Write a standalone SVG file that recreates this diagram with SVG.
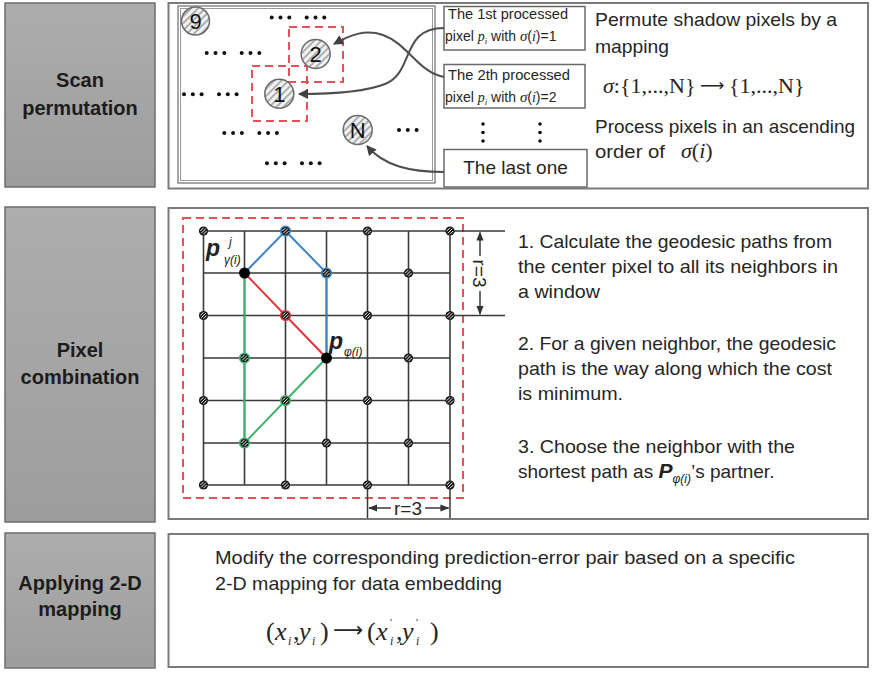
<svg xmlns="http://www.w3.org/2000/svg" width="873" height="677" viewBox="0 0 873 677">
<defs>
<style>
.lbl{font-family:"Liberation Sans",Arial,sans-serif;font-weight:bold;font-size:20px;fill:#1c1c1c;text-anchor:middle}
.gbox{fill:url(#gg);stroke:#6e6e6e;stroke-width:1.5}
.panel{fill:#fff;stroke:#7a7a7a;stroke-width:2}
.t{font-family:"Liberation Sans",Arial,sans-serif;font-size:19px;fill:#262626}
.ts{font-family:"Liberation Sans",Arial,sans-serif;font-size:14px;fill:#262626}
.m{font-family:"Liberation Serif","Times New Roman",serif;fill:#262626}
.mi{font-family:"Liberation Serif","Times New Roman",serif;font-style:italic}
.ar{font-family:"DejaVu Sans",sans-serif;fill:#262626}
.gl{stroke:#3a3a3a;stroke-width:1.6;fill:none}
.rd{fill:none;stroke:#e8505a;stroke-width:2;stroke-dasharray:8 5}
.conn{fill:none;stroke:#4f4f4f;stroke-width:2;marker-end:url(#ah)}
.hc{fill:url(#hatch);stroke:#6a6a6a;stroke-width:1.5}
.num{font-family:"Liberation Sans",Arial,sans-serif;font-size:22px;fill:#111;text-anchor:middle}
.dim{stroke:#3a3a3a;stroke-width:1.5;fill:none}
.lb{fill:#fff;stroke:#6a6a6a;stroke-width:1.5}
.dot{fill:#111}
.pl{font-family:"Liberation Sans",Arial,sans-serif;font-weight:bold;font-style:italic;fill:#222}
.sub{font-family:"Liberation Sans",Arial,sans-serif;font-style:italic;fill:#222;font-size:12px}
</style>
<linearGradient id="gg" x1="0" y1="0" x2="0" y2="1"><stop offset="0" stop-color="#adadad"/><stop offset="1" stop-color="#9d9d9d"/></linearGradient>
<pattern id="hatch" width="5" height="5" patternUnits="userSpaceOnUse" patternTransform="rotate(45)"><rect width="5" height="5" fill="#f2f2f2"/><line x1="1" y1="0" x2="1" y2="5" stroke="#777" stroke-width="1.1"/></pattern>
<marker id="ah" viewBox="0 0 10 10" refX="9" refY="5" markerWidth="5" markerHeight="5" orient="auto"><path d="M0,0 L10,5 L0,10 z" fill="#404040"/></marker>
<marker id="da" viewBox="0 0 10 10" refX="9" refY="5" markerWidth="6" markerHeight="6" orient="auto-start-reverse"><path d="M0,1 L10,5 L0,9 z" fill="#333"/></marker>
<g id="nd"><circle r="4.6" fill="#1a1a1a"/><path d="M-3.2,0 L0,-3.2 M-2.3,2.3 L2.3,-2.3 M0,3.2 L3.2,0" stroke="#fff" stroke-width="0.9"/></g>
<g id="d3" class="dot"><circle cx="0" cy="0" r="2"/><circle cx="8.8" cy="0" r="2"/><circle cx="17.6" cy="0" r="2"/></g>
</defs>
<rect width="873" height="677" fill="#fff"/>

<!-- left stage labels -->
<g id="stage-scan"><rect class="gbox" x="5" y="3" width="150" height="184"/><text class="lbl" x="80" y="87">Scan</text><text class="lbl" x="80" y="115">permutation</text></g>
<g id="stage-combination"><rect class="gbox" x="5" y="207" width="150" height="315"/><text class="lbl" x="80" y="357">Pixel</text><text class="lbl" x="80" y="384">combination</text></g>
<g id="stage-mapping"><rect class="gbox" x="5" y="533" width="150" height="135"/><text class="lbl" x="80" y="590">Applying 2-D</text><text class="lbl" x="80" y="616">mapping</text></g>

<!-- panel 1 -->
<g id="panel-scan">
<rect class="panel" x="168.5" y="3" width="699.5" height="185.5"/>
<rect x="178" y="6" width="257" height="177" fill="none" stroke="#777" stroke-width="1.3"/>
<rect x="180.5" y="8.5" width="252" height="172" fill="none" stroke="#9a9a9a" stroke-width="1"/>
<use href="#d3" x="271.7" y="17.5"/><use href="#d3" x="306.7" y="17.5"/>
<use href="#d3" x="206.7" y="53"/><use href="#d3" x="241.7" y="53"/>
<use href="#d3" x="184" y="94.3"/><use href="#d3" x="219" y="94.3"/>
<use href="#d3" x="224.3" y="133"/><use href="#d3" x="259.3" y="133"/>
<use href="#d3" x="267" y="163.3"/><use href="#d3" x="302" y="163.3"/>
<use href="#d3" x="399" y="130"/>
<rect class="rd" x="289" y="27" width="54" height="55" stroke-dasharray="7 4"/>
<rect class="rd" x="252" y="66" width="55" height="55" stroke-dasharray="7 4"/>
<text class="t" x="595" y="26" textLength="242" lengthAdjust="spacingAndGlyphs">Permute shadow pixels by a</text>
<text class="t" x="595" y="53" textLength="74" lengthAdjust="spacingAndGlyphs">mapping</text>
<text class="m" x="603" y="93" font-size="22"><tspan font-style="italic">σ</tspan>:{1,...,N}</text>
<text class="ar" x="700" y="91" font-size="17">⟶</text>
<text class="m" x="729" y="93" font-size="22">{1,...,N}</text>
<text class="t" x="595" y="133" textLength="260" lengthAdjust="spacingAndGlyphs">Process pixels in an ascending</text>
<text class="t" x="595" y="158" textLength="70" lengthAdjust="spacingAndGlyphs">order of</text>
<text class="m" x="681" y="158" font-size="22"><tspan font-style="italic">σ</tspan>(<tspan font-style="italic">i</tspan>)</text>
</g>

<g id="px9"><circle class="hc" cx="195.5" cy="21" r="14"/><text class="num" x="195.5" y="29">9</text></g>
<g id="px2"><circle class="hc" cx="315.7" cy="54" r="14.5"/><text class="num" x="315.7" y="62">2</text></g>
<g id="px1"><circle class="hc" cx="279.3" cy="93.7" r="14.5"/><text class="num" x="279.3" y="101.7">1</text></g>
<g id="pxN"><circle class="hc" cx="357.7" cy="130" r="14.5"/><text class="num" x="357.7" y="138">N</text></g>

<g id="box-first"><rect class="lb" x="444" y="6.5" width="141" height="43.5"/>
<text class="ts" x="448" y="19" textLength="120" lengthAdjust="spacingAndGlyphs">The 1st processed</text>
<text class="ts" x="445" y="41">pixel <tspan class="mi">p</tspan><tspan font-size="9" dy="3" class="mi">i</tspan><tspan dy="-3"> with </tspan><tspan class="mi" font-size="15">σ</tspan>(<tspan class="mi">i</tspan>)=1</text></g>
<g id="box-second"><rect class="lb" x="444" y="64.5" width="141" height="43.5"/>
<text class="ts" x="448" y="80" textLength="122" lengthAdjust="spacingAndGlyphs">The 2th processed</text>
<text class="ts" x="445" y="102">pixel <tspan class="mi">p</tspan><tspan font-size="9" dy="3" class="mi">i</tspan><tspan dy="-3"> with </tspan><tspan class="mi" font-size="15">σ</tspan>(<tspan class="mi">i</tspan>)=2</text></g>
<g id="vdots" class="dot"><circle cx="483" cy="124" r="1.8"/><circle cx="483" cy="132.5" r="1.8"/><circle cx="483" cy="141" r="1.8"/><circle cx="540" cy="124" r="1.8"/><circle cx="540" cy="132.5" r="1.8"/><circle cx="540" cy="141" r="1.8"/></g>
<g id="box-last"><rect class="lb" x="444" y="149.5" width="143" height="37.5"/>
<text class="t" x="515.5" y="174" font-size="17" text-anchor="middle">The last one</text></g>

<g id="connectors">
<path class="conn" d="M444,28 C400,28 415,72 385,84 C365,92 330,94 299,94"/>
<path class="conn" d="M444,77 C418,72 408,44 383,35 C365,29 350,35 334,44"/>
<path class="conn" d="M444,172 C410,172 384,166 367,146"/>
</g>

<!-- panel 2 -->
<g id="panel-combination">
<rect class="panel" x="168.5" y="208" width="699.5" height="311"/>
<rect class="rd" x="183" y="218" width="280" height="280"/>
<g class="gl">
<path d="M203.5,231H450M203.5,273H450M203.5,315.5H450M203.5,358H450M203.5,400.5H450M203.5,443H450M203.5,485H450"/>
<path d="M203.5,231V485M244.5,231V485M285.5,231V485M326.5,231V485M367.5,231V485M408.5,231V485M450,231V485"/>
</g>
<path class="dim" d="M450,231H505M450,315.5H505M367.5,485V518M450,485V518"/>
<path class="dim" d="M480,256V232.5" marker-end="url(#da)"/>
<path class="dim" d="M480,291V314" marker-end="url(#da)"/>
<text class="t" font-size="20" text-anchor="middle" transform="translate(480,273.5) rotate(90)" x="0" y="7">r=3</text>
<path class="dim" d="M391,508H369" marker-end="url(#da)"/>
<path class="dim" d="M425,508H448.5" marker-end="url(#da)"/>
<text class="t" font-size="20" x="408" y="515" text-anchor="middle">r=3</text>
</g>

<g id="geodesic-paths" fill="none" stroke-width="2">
<path d="M244.5,273L285.5,231L326.5,273L326.5,358" stroke="#3d85c6"/>
<path d="M244.5,273L285.5,315.5L326.5,358" stroke="#e0353a"/>
<path d="M244.5,273L244.5,443L285.5,400.5L326.5,358" stroke="#3db36d"/>
</g>

<g id="grid-pixels">
<use href="#nd" x="203.5" y="231"/><use href="#nd" x="285.5" y="231"/><use href="#nd" x="367.5" y="231"/><use href="#nd" x="450" y="231"/>
<use href="#nd" x="326.5" y="273"/><use href="#nd" x="408.5" y="273"/>
<use href="#nd" x="203.5" y="315.5"/><use href="#nd" x="285.5" y="315.5"/><use href="#nd" x="367.5" y="315.5"/><use href="#nd" x="450" y="315.5"/>
<use href="#nd" x="244.5" y="358"/><use href="#nd" x="408.5" y="358"/>
<use href="#nd" x="203.5" y="400.5"/><use href="#nd" x="285.5" y="400.5"/><use href="#nd" x="367.5" y="400.5"/><use href="#nd" x="450" y="400.5"/>
<use href="#nd" x="244.5" y="443"/><use href="#nd" x="326.5" y="443"/><use href="#nd" x="408.5" y="443"/>
<use href="#nd" x="203.5" y="485"/><use href="#nd" x="285.5" y="485"/><use href="#nd" x="367.5" y="485"/><use href="#nd" x="450" y="485"/>
<g fill="none" stroke-width="1.6">
<circle cx="285.5" cy="231" r="4.8" stroke="#3d85c6"/><circle cx="326.5" cy="273" r="4.8" stroke="#3d85c6"/>
<circle cx="285.5" cy="315.5" r="4.8" stroke="#e0353a"/>
<circle cx="244.5" cy="358" r="4.8" stroke="#3db36d"/><circle cx="285.5" cy="400.5" r="4.8" stroke="#3db36d"/><circle cx="244.5" cy="443" r="4.8" stroke="#3db36d"/>
</g>
<circle cx="244.5" cy="273" r="5.5" fill="#000"/>
<circle cx="326.5" cy="358" r="5.5" fill="#000"/>
</g>

<g id="label-pgamma"><text class="pl" x="206" y="256" font-size="23">p</text><text class="sub" x="229" y="246">j</text><text class="sub" x="224" y="264">γ(i)</text></g>
<g id="label-pphi"><text class="pl" x="329" y="349" font-size="23">p</text><text class="sub" x="344" y="356">φ(i)</text></g>

<g id="panel2-text">
<text class="t" x="518" y="248" textLength="314" lengthAdjust="spacingAndGlyphs">1. Calculate the geodesic paths from</text>
<text class="t" x="518" y="273" textLength="320" lengthAdjust="spacingAndGlyphs">the center pixel to all its neighbors in</text>
<text class="t" x="518" y="298" textLength="82" lengthAdjust="spacingAndGlyphs">a window</text>
<text class="t" x="518" y="350" textLength="318" lengthAdjust="spacingAndGlyphs">2. For a given neighbor, the geodesic</text>
<text class="t" x="518" y="375" textLength="314" lengthAdjust="spacingAndGlyphs">path is the way along which the cost</text>
<text class="t" x="518" y="400" textLength="105" lengthAdjust="spacingAndGlyphs">is minimum.</text>
<text class="t" x="518" y="453" textLength="277" lengthAdjust="spacingAndGlyphs">3. Choose the neighbor with the</text>
<text class="t" x="518" y="478">shortest path as <tspan class="pl" font-size="21">P</tspan><tspan class="sub" font-size="11" dy="5">φ(i)</tspan><tspan dy="-5">’s partner.</tspan></text>
</g>

<!-- panel 3 -->
<g id="panel-mapping">
<rect class="panel" x="168.5" y="534" width="699.5" height="133"/>
<text class="t" x="215" y="564" textLength="580" lengthAdjust="spacingAndGlyphs">Modify the corresponding prediction-error pair based on a specific</text>
<text class="t" x="215" y="590" textLength="287" lengthAdjust="spacingAndGlyphs">2-D mapping for data embedding</text>
<g class="m" font-size="26">
<text x="266" y="640">(</text>
<text x="275" y="640" font-style="italic">x</text>
<text x="288" y="645" font-size="12" font-style="italic">i</text>
<text x="293" y="640">,</text>
<text x="299" y="640" font-style="italic">y</text>
<text x="312" y="645" font-size="12" font-style="italic">i</text>
<text x="320" y="640">)</text>
<text class="ar" x="333" y="637" font-size="21">⟶</text>
<text x="367" y="640">(</text>
<text x="376" y="640" font-style="italic">x</text>
<text x="390" y="645" font-size="12" font-style="italic">i</text>
<text x="390" y="626" font-size="11">'</text>
<text x="396" y="640">,</text>
<text x="402" y="640" font-style="italic">y</text>
<text x="416" y="645" font-size="12" font-style="italic">i</text>
<text x="416" y="626" font-size="11">'</text>
<text x="430" y="640">)</text>
</g>
</g>
</svg>
